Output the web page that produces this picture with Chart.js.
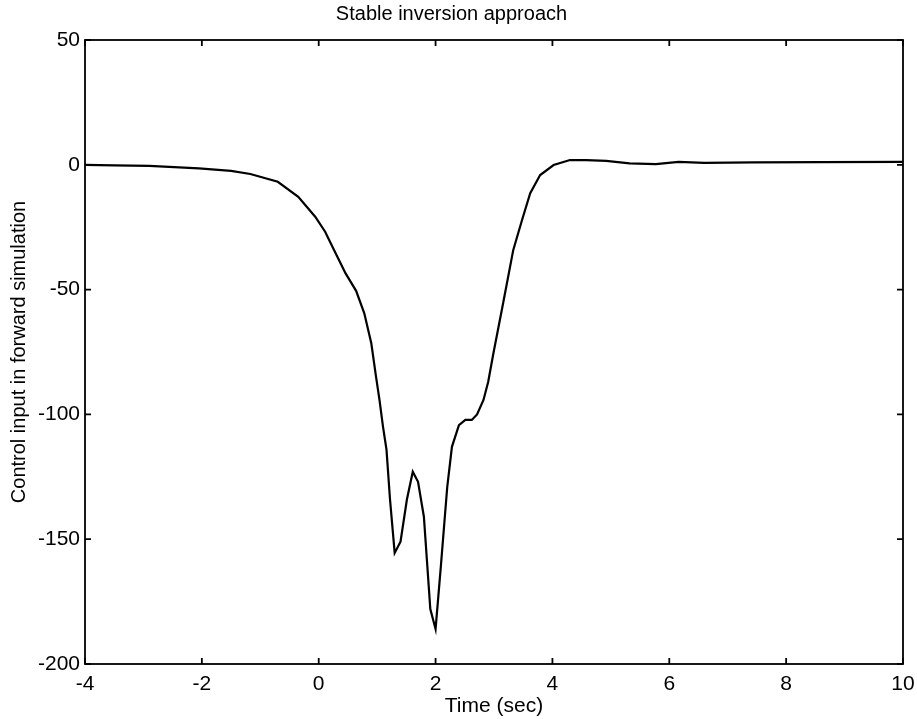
<!DOCTYPE html>
<html>
<head>
<meta charset="utf-8">
<script src="https://cdn.jsdelivr.net/npm/chart.js@4/dist/chart.umd.min.js"></script>
<style>
  html, body { margin: 0; padding: 0; background: #fff; }
  #wrap { width: 917px; height: 719px; }
</style>
</head>
<body>
<div id="wrap"><canvas id="stableChart" width="917" height="719"></canvas></div>
<script>
// time (sec) and control input
var timeSec = [-4, -3.5, -2.9, -2.05, -1.5, -1.17, -0.7, -0.35, -0.06, 0.11,
               0.26, 0.46, 0.64, 0.78, 0.90, 0.98, 1.04, 1.10, 1.16, 1.22,
               1.30, 1.40, 1.51, 1.61, 1.70, 1.80, 1.91, 2.00, 2.09, 2.20,
               2.28, 2.40, 2.51, 2.62, 2.71, 2.82, 2.90, 2.99, 3.16, 3.33,
               3.48, 3.62, 3.79, 4.02, 4.30, 4.58, 4.92, 5.32, 5.77, 6.16,
               6.6, 7.45, 8.6, 10];
var controlInput = [0, -0.2, -0.4, -1.4, -2.4, -3.7, -6.8, -12.8, -20.8, -26.8,
                    -34, -43.5, -50.5, -59.5, -71.5, -84.8, -94.2, -104.9, -114.1, -134,
                    -155.5, -151, -134, -123, -127, -141, -178, -186, -161, -129,
                    -113, -104.3, -102.2, -102.2, -100, -94.2, -87, -75.5, -55, -34.1,
                    -22.1, -11.4, -4.1, -0.1, 1.9, 1.9, 1.6, 0.6, 0.3, 1.2,
                    0.8, 1.0, 1.1, 1.2];
var xTicks = [-4, -2, 0, 2, 4, 6, 8, 10];
var yTicks = [-200, -150, -100, -50, 0, 50];

var points = [];
for (var i in timeSec) {
    points.push({x: timeSec[i], y: controlInput[i]});
}

var font = "'Liberation Sans', Arial, Helvetica, sans-serif";

// box around the plot + inward tick marks (matlab style)
var boxTicks = {
    id: 'boxTicks',
    afterDatasetsDraw: function (chart) {
        var ctx = chart.ctx;
        var a = chart.chartArea;
        var xs = chart.scales.x;
        var ys = chart.scales.y;
        var len = 6;
        ctx.save();
        ctx.strokeStyle = '#000';
        ctx.lineWidth = 1.8;
        ctx.strokeRect(a.left, a.top, a.right - a.left, a.bottom - a.top);
        ctx.beginPath();
        xTicks.forEach(function (v) {
            var px = xs.getPixelForValue(v);
            ctx.moveTo(px, a.bottom); ctx.lineTo(px, a.bottom - len);
            ctx.moveTo(px, a.top); ctx.lineTo(px, a.top + len);
        });
        yTicks.forEach(function (v) {
            var py = ys.getPixelForValue(v);
            ctx.moveTo(a.left, py); ctx.lineTo(a.left + len, py);
            ctx.moveTo(a.right, py); ctx.lineTo(a.right - len, py);
        });
        ctx.stroke();
        ctx.restore();
    }
};

var graphTarget = document.getElementById('stableChart');
var lineGraph = new Chart(graphTarget, {
    type: 'scatter',
    data: {
        datasets: [{
            label: 'Control input',
            data: points,
            showLine: true,
            borderColor: '#000',
            borderWidth: 2.2,
            pointRadius: 0,
            tension: 0,
            fill: false
        }]
    },
    options: {
        responsive: false,
        animation: false,
        layout: { padding: { left: 0, right: 14, top: 0, bottom: 0 } },
        plugins: {
            legend: { display: false },
            tooltip: { enabled: false },
            title: {
                display: true,
                text: 'Stable inversion approach',
                color: '#000',
                font: { family: font, size: 20, weight: 'normal' },
                padding: { top: 2, bottom: 14 }
            }
        },
        scales: {
            x: {
                type: 'linear',
                min: -4,
                max: 10,
                afterFit: function (s) { s.height = 55; s.paddingRight = 0; },
                afterBuildTicks: function (s) { s.ticks = xTicks.map(function (v) { return {value: v}; }); },
                grid: { display: false, drawTicks: false },
                border: { display: false },
                ticks: {
                    color: '#000',
                    padding: 8,
                    maxRotation: 0,
                    font: { family: font, size: 21 }
                },
                title: {
                    display: true,
                    text: 'Time (sec)',
                    color: '#000',
                    font: { family: font, size: 21 },
                    padding: { top: 0, bottom: 0 }
                }
            },
            y: {
                type: 'linear',
                min: -200,
                max: 50,
                afterFit: function (s) { s.width = 85; },
                afterBuildTicks: function (s) { s.ticks = yTicks.map(function (v) { return {value: v}; }); },
                grid: { display: false, drawTicks: false },
                border: { display: false },
                ticks: {
                    color: '#000',
                    padding: 5,
                    font: { family: font, size: 21 }
                },
                title: {
                    display: true,
                    text: 'Control input in forward simulation',
                    color: '#000',
                    font: { family: font, size: 20 },
                    padding: { top: 7, bottom: 0 }
                }
            }
        }
    },
    plugins: [boxTicks]
});
</script>
</body>
</html>
